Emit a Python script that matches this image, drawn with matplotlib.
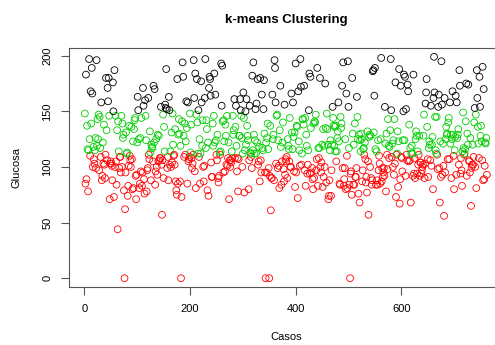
import numpy as np
import matplotlib
matplotlib.use("Agg")
import matplotlib.pyplot as plt

# glucose per case (Pima diabetes data)
glucosa = [148, 85, 183, 89, 137, 116, 78, 115, 197, 125, 110, 168, 139, 189, 166, 100, 118, 107, 103, 115,
           126, 99, 196, 119, 143, 125, 147, 97, 145, 117, 109, 158, 88, 92, 122, 103, 138, 102, 90, 111,
           180, 133, 106, 171, 159, 180, 146, 71, 103, 105, 103, 101, 88, 176, 150, 73, 187, 100, 146, 105,
           84, 133, 44, 141, 114, 99, 109, 109, 95, 146, 100, 139, 126, 129, 79, 0, 62, 95, 131, 112,
           113, 74, 83, 101, 137, 110, 106, 100, 136, 107, 80, 123, 81, 134, 142, 144, 92, 71, 93, 122,
           163, 151, 125, 81, 85, 126, 96, 144, 83, 95, 171, 155, 89, 76, 160, 146, 124, 78, 97, 99,
           162, 111, 107, 132, 113, 88, 120, 118, 117, 105, 173, 122, 170, 84, 96, 125, 100, 93, 129, 105,
           128, 106, 108, 108, 154, 102, 57, 106, 147, 90, 136, 114, 156, 153, 188, 152, 99, 109, 88, 163,
           151, 102, 114, 100, 131, 104, 148, 120, 110, 111, 102, 134, 87, 79, 75, 179, 85, 129, 143, 130,
           87, 119, 0, 73, 141, 194, 181, 128, 109, 139, 111, 123, 159, 135, 85, 158, 105, 107, 109, 148,
           113, 138, 108, 99, 103, 111, 196, 162, 96, 184, 81, 147, 179, 140, 112, 151, 109, 125, 85, 112,
           177, 158, 119, 142, 100, 87, 101, 162, 197, 117, 142, 134, 79, 122, 74, 171, 181, 179, 164, 104,
           91, 91, 139, 119, 146, 184, 122, 165, 124, 111, 106, 129, 90, 86, 92, 113, 111, 114, 193, 155,
           191, 141, 95, 142, 123, 96, 138, 128, 102, 146, 101, 108, 122, 71, 106, 100, 106, 104, 114, 108,
           146, 129, 133, 161, 108, 136, 155, 119, 96, 108, 78, 107, 128, 128, 161, 151, 146, 126, 100, 112,
           167, 144, 77, 115, 150, 120, 161, 137, 128, 124, 80, 106, 155, 113, 109, 112, 99, 182, 115, 194,
           129, 112, 124, 152, 112, 157, 122, 179, 102, 105, 118, 87, 180, 106, 95, 165, 117, 115, 152, 178,
           130, 95, 0, 122, 95, 126, 139, 116, 99, 0, 92, 137, 61, 90, 90, 165, 125, 129, 88, 196,
           189, 158, 103, 146, 147, 99, 124, 101, 81, 133, 173, 118, 84, 105, 122, 140, 98, 87, 156, 93,
           107, 105, 109, 90, 125, 119, 116, 105, 144, 100, 100, 166, 131, 116, 158, 127, 96, 131, 82, 193,
           95, 137, 136, 72, 168, 123, 115, 101, 197, 172, 102, 112, 143, 143, 138, 173, 97, 144, 83, 129,
           119, 94, 102, 115, 151, 184, 94, 181, 135, 95, 99, 89, 80, 139, 90, 141, 140, 147, 97, 107,
           189, 83, 117, 108, 117, 180, 100, 95, 104, 120, 82, 134, 91, 119, 100, 175, 135, 86, 148, 134,
           120, 71, 74, 88, 115, 124, 74, 97, 120, 154, 144, 137, 119, 136, 114, 137, 105, 114, 126, 132,
           158, 123, 85, 84, 145, 135, 139, 173, 99, 194, 83, 89, 99, 125, 80, 166, 110, 81, 195, 154,
           117, 84, 0, 94, 96, 75, 180, 130, 84, 120, 84, 139, 91, 91, 99, 163, 145, 125, 76, 129,
           68, 124, 114, 130, 125, 87, 97, 116, 117, 111, 122, 107, 86, 91, 77, 132, 105, 57, 127, 129,
           100, 128, 90, 84, 88, 186, 187, 131, 164, 189, 116, 84, 114, 88, 84, 124, 97, 110, 103, 85,
           125, 198, 87, 99, 91, 95, 99, 92, 154, 121, 78, 130, 111, 98, 143, 119, 108, 118, 133, 197,
           151, 109, 121, 100, 124, 93, 143, 103, 176, 73, 111, 112, 132, 82, 123, 188, 67, 89, 173, 109,
           108, 96, 124, 150, 183, 124, 181, 92, 152, 111, 106, 174, 168, 105, 138, 106, 117, 68, 112, 119,
           112, 92, 183, 94, 108, 90, 125, 132, 128, 94, 114, 102, 111, 128, 92, 104, 104, 94, 97, 100,
           102, 128, 147, 90, 103, 157, 167, 179, 136, 107, 91, 117, 123, 120, 106, 155, 101, 120, 127, 80,
           162, 199, 167, 145, 115, 112, 145, 111, 98, 154, 165, 99, 68, 123, 91, 195, 156, 93, 121, 101,
           56, 162, 95, 125, 136, 129, 130, 107, 140, 144, 107, 158, 121, 129, 90, 125, 168, 129, 110, 80,
           115, 127, 164, 93, 158, 126, 129, 134, 102, 187, 173, 94, 108, 97, 83, 114, 149, 117, 111, 112,
           116, 141, 175, 92, 130, 120, 174, 106, 105, 95, 126, 65, 99, 102, 120, 102, 109, 140, 153, 100,
           147, 81, 187, 162, 136, 121, 108, 181, 154, 128, 137, 123, 106, 190, 88, 170, 89, 101, 122, 121,
           126, 93]

# cluster limits: <= 111 low, 112..149 mid, >= 150 high
cortes = [111.5, 149.5]
colores = ["#FF0000", "#00CD00", "#000000"]

y = np.array(glucosa, dtype=float)
x = np.arange(1, len(y) + 1)
grupo = np.digitize(y, cortes)

plt.rcParams['font.family'] = ['Liberation Sans', 'DejaVu Sans']
fig = plt.figure(figsize=(4.95, 3.45), dpi=100)
ax = fig.add_axes([0.139, 0.168, 0.877, 0.693])

for k in range(3):
    m = grupo == k
    ax.scatter(x[m], y[m], s=24, facecolors='none', edgecolors=colores[k], linewidths=0.6)

ax.set_xlim(1 - 0.04 * (len(y) - 1), len(y) + 0.04 * (len(y) - 1))
ax.set_ylim(-0.04 * 199, 199 * 1.04)
ax.set_xticks([0, 200, 400, 600])
ax.set_yticks([0, 50, 100, 150, 200])
ax.tick_params(direction='out', length=6, width=0.8, color='#555555', labelsize=8, pad=6)
for lbl in ax.get_yticklabels():
    lbl.set_rotation(90)
    lbl.set_va('center')
for s in ax.spines.values():
    s.set_color('#555555')
    s.set_linewidth(0.8)

ax.set_title('k-means Clustering', fontsize=9.5, fontweight='bold', pad=18)
ax.set_xlabel('Casos', fontsize=8, labelpad=13)
ax.set_ylabel('Glucosa', fontsize=8, labelpad=15)

fig.savefig('out.png', dpi=100)
